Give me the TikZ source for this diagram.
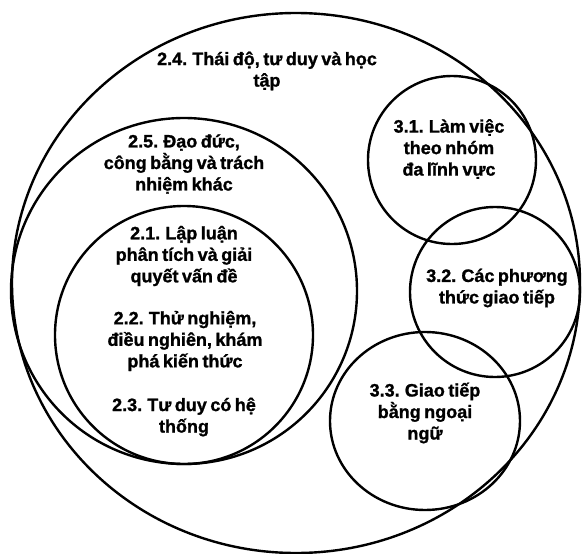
\documentclass[tikz,border=0pt]{standalone}
\usepackage{fontspec}
\setmainfont{Liberation Sans}[WordSpace=0.7, BoldFeatures={FakeBold=1.2}]
\usetikzlibrary{shapes.geometric}
\begin{document}
\begin{tikzpicture}[x=1pt,y=-1pt,
  ring/.style={draw, circle, line width=2.4pt, inner sep=0pt},
  oval/.style={draw, ellipse, line width=2.4pt, inner sep=0pt},
  lbl/.style={font=\bfseries\fontsize{18}{21.5}\selectfont, align=center, inner sep=0pt}]
\useasboundingbox (0,0) rectangle (582,554);
% circles
\node[oval, minimum width=568pt, minimum height=540pt] (c24) at (296,283) {};
\node[ring, minimum size=346pt] (c25) at (184,291) {};
\node[ring, minimum size=258pt] (c21) at (184,335) {};
\node[ring, minimum size=168pt] (c31) at (452,160) {};
\node[ring, minimum size=170pt] (c32) at (495,292) {};
\node[oval, minimum width=190pt, minimum height=178pt] (c33) at (425,421) {};
% labels
\node[lbl] (t24) at (267,71) {2.4. Thái độ, tư duy và học\\tập};
\node[lbl] (t25) at (184,164) {2.5. Đạo đức,\\công bằng và trách\\nhiệm khác};
\node[lbl] (t21) at (184,256) {2.1. Lập luận\\phân tích và giải\\quyết vấn đề};
\node[lbl] (t22) at (185,341) {2.2. Thử nghiệm,\\điều nghiên, khám\\phá kiến thức};
\node[lbl] (t23) at (184,417) {2.3. Tư duy có hệ\\thống};
\node[lbl] (t31) at (449,149) {3.1. Làm việc\\theo nhóm\\đa lĩnh vực};
\node[lbl] (t32) at (497,288) {3.2. Các phương\\thức giao tiếp};
\node[lbl] (t33) at (425,413) {3.3. Giao tiếp\\bằng ngoại\\ngữ};
\end{tikzpicture}
\end{document}
